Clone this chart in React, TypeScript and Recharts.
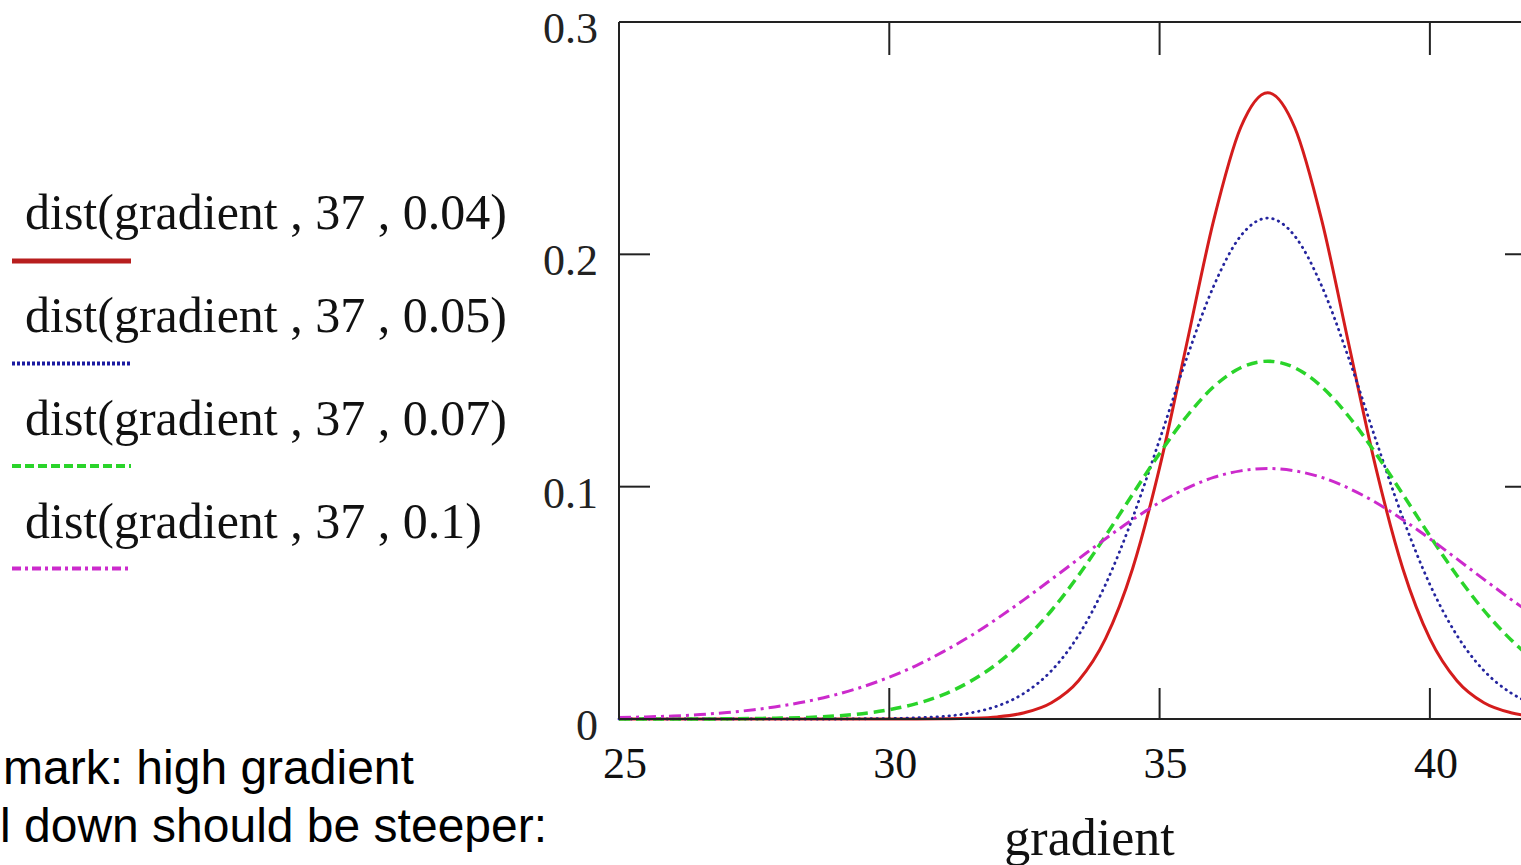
import { LineChart, Line, XAxis, YAxis, Label } from 'recharts';

// gradient values sampled every 0.5
const gradient = [
  25, 25.5, 26, 26.5, 27, 27.5, 28, 28.5, 29, 29.5, 30, 30.5, 31, 31.5, 32, 32.5, 33, 33.5,
  34, 34.5, 35, 35.5, 36, 36.5, 37, 37.5, 38, 38.5, 39, 39.5, 40, 40.5, 41, 41.5, 42,
];

// dist(gradient, 37, 0.04)
const dist004 = [
  0, 0, 0, 0, 0, 0, 0, 0, 0, 0, 0, 0, 0.0001, 0.0003, 0.0009, 0.0027, 0.007, 0.0165,
  0.0346, 0.0647, 0.1082, 0.1613, 0.2146, 0.2546, 0.2696, 0.2546, 0.2146, 0.1613, 0.1082, 0.0647, 0.0346, 0.0165, 0.007, 0.0027, 0.0009,
];

// dist(gradient, 37, 0.05)
const dist005 = [
  0, 0, 0, 0, 0, 0, 0, 0, 0, 0.0001, 0.0002, 0.0005, 0.0011, 0.0026, 0.0056, 0.0112, 0.0208, 0.036,
  0.0579, 0.0865, 0.1202, 0.1552, 0.1863, 0.2079, 0.2156, 0.2079, 0.1863, 0.1552, 0.1202, 0.0865, 0.0579, 0.036, 0.0208, 0.0112, 0.0056,
];

// dist(gradient, 37, 0.07)
const dist007 = [
  0, 0, 0, 0, 0.0001, 0.0002, 0.0004, 0.0007, 0.0013, 0.0023, 0.004, 0.0066, 0.0105, 0.0162, 0.0239, 0.0341, 0.0467, 0.0618,
  0.0788, 0.0967, 0.1143, 0.1302, 0.143, 0.1512, 0.154, 0.1512, 0.143, 0.1302, 0.1143, 0.0967, 0.0788, 0.0618, 0.0467, 0.0341, 0.0239,
];

// dist(gradient, 37, 0.1)
const dist01 = [
  0.0006, 0.0009, 0.0013, 0.0019, 0.0028, 0.004, 0.0056, 0.0077, 0.0104, 0.0138, 0.018, 0.023, 0.029, 0.0357, 0.0433, 0.0515, 0.0601, 0.0689,
  0.0776, 0.0858, 0.0932, 0.0993, 0.104, 0.1068, 0.1078, 0.1068, 0.104, 0.0993, 0.0932, 0.0858, 0.0776, 0.0689, 0.0601, 0.0515, 0.0433,
];

const xTicks = [25, 30, 35, 40];
const yTicks = [0, 0.1, 0.2, 0.3];

// the last trace is hooked to the top/right axes so the frame gets drawn on all four sides
const series = [
  { key: 'd004', name: 'dist(gradient , 37 , 0.04)', color: '#d41c1c', width: 3, dash: undefined, cap: 'butt', legendColor: '#b81e1e', legendDash: undefined, xId: 0, yId: 0 },
  { key: 'd005', name: 'dist(gradient , 37 , 0.05)', color: '#25259e', width: 2.8, dash: '0.5 5.5', cap: 'round', legendColor: '#1a1aa0', legendDash: '3 2', xId: 0, yId: 0 },
  { key: 'd007', name: 'dist(gradient , 37 , 0.07)', color: '#2ad42a', width: 3.5, dash: '11 6', cap: 'butt', legendColor: '#2ad42a', legendDash: '9 4', xId: 0, yId: 0 },
  { key: 'd01', name: 'dist(gradient , 37 , 0.1)', color: '#cc2acc', width: 3, dash: '12 5 3 5', cap: 'butt', legendColor: '#cc2acc', legendDash: '9 4 3 4', xId: 'top', yId: 'right' },
];

const data = gradient.map((g, i) => ({
  gradient: g,
  d004: dist004[i],
  d005: dist005[i],
  d007: dist007[i],
  d01: dist01[i],
}));

const SERIF = '"Liberation Serif", "Times New Roman", serif';
const SANS = '"Liberation Sans", Arial, sans-serif';
const AXIS = '#222';

function BottomTick({ x, y, payload }: any) {
  return (
    <g>
      <line x1={x} x2={x} y1={y} y2={y - 31} stroke={AXIS} strokeWidth={2} />
      <text x={x + 6} y={y + 59} textAnchor="middle" fontFamily={SERIF} fontSize={44} fill="#111">
        {payload.value}
      </text>
    </g>
  );
}

function TopTick({ x, y }: any) {
  return <line x1={x} x2={x} y1={y} y2={y + 33} stroke={AXIS} strokeWidth={2} />;
}

function LeftTick({ x, y, payload }: any) {
  return (
    <g>
      <line x1={x} x2={x + 31} y1={y} y2={y} stroke={AXIS} strokeWidth={2} />
      <text x={x - 21} y={y + 21} textAnchor="end" fontFamily={SERIF} fontSize={44} fill="#222">
        {String(payload.value)}
      </text>
    </g>
  );
}

function RightTick({ x, y }: any) {
  return <line x1={x} x2={x - 33} y1={y} y2={y} stroke={AXIS} strokeWidth={2} />;
}

function AxisTitle({ viewBox }: any) {
  return (
    <text x={viewBox.x + viewBox.width / 2 + 11} y={viewBox.y + 136} textAnchor="middle" fontFamily={SERIF} fontSize={52} fill="#111">
      gradient
    </text>
  );
}

function Key() {
  return (
    <svg width={560} height={620} style={{ position: 'absolute', left: 0, top: 0 }}>
      {series.map((s, i) => (
        <g key={s.key}>
          <text x={25} y={229 + i * 103} fontFamily={SERIF} fontSize={50} fill="#111">
            {s.name}
          </text>
          <line
            x1={12}
            x2={131}
            y1={261 + i * 102.5}
            y2={261 + i * 102.5}
            stroke={s.legendColor}
            strokeWidth={i === 0 ? 5 : 4}
            strokeDasharray={s.legendDash}
          />
        </g>
      ))}
    </svg>
  );
}

export default function App() {
  return (
    <div style={{ position: 'absolute', left: 0, top: 0, width: 1521, height: 865, overflow: 'hidden', background: '#fff' }}>
      <LineChart width={1560} height={865} data={data} margin={{ top: 21, right: 21, left: 539, bottom: 0 }}>
        <XAxis
          dataKey="gradient"
          type="number"
          domain={[25, 42]}
          ticks={xTicks}
          height={146}
          tickSize={0}
          tickMargin={0}
          tickLine={false}
          tick={<BottomTick />}
          axisLine={{ stroke: AXIS, strokeWidth: 2 }}
          interval={0}
        >
          <Label content={<AxisTitle />} />
        </XAxis>
        <XAxis
          xAxisId="top"
          dataKey="gradient"
          orientation="top"
          type="number"
          domain={[25, 42]}
          ticks={xTicks}
          height={1}
          tickSize={0}
          tickMargin={0}
          tickLine={false}
          tick={<TopTick />}
          axisLine={{ stroke: AXIS, strokeWidth: 2 }}
          allowDataOverflow
          interval={0}
        />
        <YAxis
          type="number"
          domain={[0, 0.3]}
          ticks={yTicks}
          width={80}
          tickSize={0}
          tickMargin={0}
          tickLine={false}
          tick={<LeftTick />}
          axisLine={{ stroke: AXIS, strokeWidth: 2 }}
          interval={0}
        />
        <YAxis
          yAxisId="right"
          orientation="right"
          type="number"
          domain={[0, 0.3]}
          ticks={yTicks}
          width={1}
          tickSize={0}
          tickMargin={0}
          tickLine={false}
          tick={<RightTick />}
          axisLine={{ stroke: AXIS, strokeWidth: 2 }}
          allowDataOverflow
          interval={0}
        />
        {series.map((s) => (
          <Line
            key={s.key}
            xAxisId={s.xId}
            yAxisId={s.yId}
            type="monotone"
            dataKey={s.key}
            stroke={s.color}
            strokeWidth={s.width}
            strokeDasharray={s.dash}
            strokeLinecap={s.cap as any}
            dot={false}
            activeDot={false}
            isAnimationActive={false}
          />
        ))}
      </LineChart>
      <Key />
      <div style={{ position: 'absolute', left: 3, top: 739, fontFamily: SANS, fontSize: 48, lineHeight: '58px', color: '#000', whiteSpace: 'nowrap' }}>
        mark: high gradient
      </div>
      <div style={{ position: 'absolute', left: 0, top: 797, fontFamily: SANS, fontSize: 48, lineHeight: '58px', color: '#000', whiteSpace: 'nowrap' }}>
        l down should be steeper:
      </div>
    </div>
  );
}
